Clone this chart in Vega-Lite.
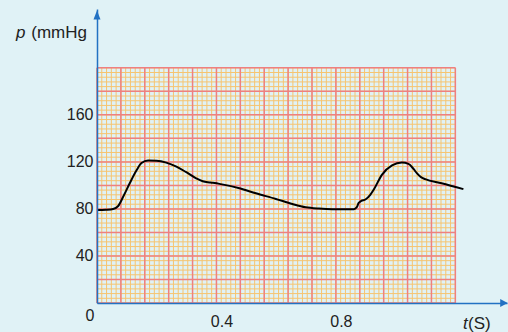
{
  "$schema": "https://vega.github.io/schema/vega-lite/v6.json",
  "width": 410,
  "height": 294,
  "autosize": "none",
  "padding": {"left": 97, "top": 9, "right": 1, "bottom": 29},
  "background": "#e0f2f6",
  "config": {"view": {"stroke": null}, "font": "Liberation Sans"},
  "datasets": {
    "vminor": [{"t":0},{"t":0.016},{"t":0.032},{"t":0.048},{"t":0.064},{"t":0.08},{"t":0.096},{"t":0.112},{"t":0.128},{"t":0.144},{"t":0.16},{"t":0.176},{"t":0.192},{"t":0.208},{"t":0.224},{"t":0.24},{"t":0.256},{"t":0.272},{"t":0.288},{"t":0.304},{"t":0.32},{"t":0.336},{"t":0.352},{"t":0.368},{"t":0.384},{"t":0.4},{"t":0.416},{"t":0.432},{"t":0.448},{"t":0.464},{"t":0.48},{"t":0.496},{"t":0.512},{"t":0.528},{"t":0.544},{"t":0.56},{"t":0.576},{"t":0.592},{"t":0.608},{"t":0.624},{"t":0.64},{"t":0.656},{"t":0.672},{"t":0.688},{"t":0.704},{"t":0.72},{"t":0.736},{"t":0.752},{"t":0.768},{"t":0.784},{"t":0.8},{"t":0.816},{"t":0.832},{"t":0.848},{"t":0.864},{"t":0.88},{"t":0.896},{"t":0.912},{"t":0.928},{"t":0.944},{"t":0.96},{"t":0.976},{"t":0.992},{"t":1.008},{"t":1.024},{"t":1.04},{"t":1.056},{"t":1.072},{"t":1.088},{"t":1.104},{"t":1.12},{"t":1.136},{"t":1.152},{"t":1.168},{"t":1.184},{"t":1.2}],
    "vmajor": [{"t":0},{"t":0.08},{"t":0.16},{"t":0.24},{"t":0.32},{"t":0.4},{"t":0.48},{"t":0.56},{"t":0.64},{"t":0.72},{"t":0.8},{"t":0.88},{"t":0.96},{"t":1.04},{"t":1.12},{"t":1.2}],
    "hminor": [{"p":0},{"p":4},{"p":8},{"p":12},{"p":16},{"p":20},{"p":24},{"p":28},{"p":32},{"p":36},{"p":40},{"p":44},{"p":48},{"p":52},{"p":56},{"p":60},{"p":64},{"p":68},{"p":72},{"p":76},{"p":80},{"p":84},{"p":88},{"p":92},{"p":96},{"p":100},{"p":104},{"p":108},{"p":112},{"p":116},{"p":120},{"p":124},{"p":128},{"p":132},{"p":136},{"p":140},{"p":144},{"p":148},{"p":152},{"p":156},{"p":160},{"p":164},{"p":168},{"p":172},{"p":176},{"p":180},{"p":184},{"p":188},{"p":192},{"p":196},{"p":200}],
    "hmajor": [{"p":0},{"p":20},{"p":40},{"p":60},{"p":80},{"p":100},{"p":120},{"p":140},{"p":160},{"p":180},{"p":200}],
    "curve": [
      {"t":0,"p":79},{"t":0.03,"p":79.3},{"t":0.054,"p":80},{"t":0.071,"p":82.5},{"t":0.088,"p":90.5},{"t":0.11,"p":102},{"t":0.132,"p":112.6},{"t":0.149,"p":119},{"t":0.171,"p":121.2},{"t":0.199,"p":121},{"t":0.232,"p":119.4},{"t":0.266,"p":116},{"t":0.299,"p":111.2},{"t":0.332,"p":106},{"t":0.354,"p":103.5},{"t":0.38,"p":102.5},{"t":0.41,"p":101.3},{"t":0.477,"p":97.6},{"t":0.532,"p":93.3},{"t":0.599,"p":88.5},{"t":0.654,"p":84.2},{"t":0.699,"p":81.4},{"t":0.743,"p":80.3},{"t":0.788,"p":79.8},{"t":0.86,"p":79.8},{"t":0.87,"p":81.5},{"t":0.876,"p":85},{"t":0.885,"p":86.8},{"t":0.899,"p":88},{"t":0.915,"p":92},{"t":0.927,"p":96.5},{"t":0.954,"p":109},{"t":0.988,"p":117},{"t":1.021,"p":119.4},{"t":1.043,"p":118.3},{"t":1.06,"p":114},{"t":1.071,"p":110.4},{"t":1.085,"p":107},{"t":1.099,"p":105.3},{"t":1.154,"p":101.9},{"t":1.227,"p":96.8}
    ]
  },
  "layer": [
    {
      "data": {"name": "vminor"},
      "mark": {"type": "rule", "color": "#f6c470", "strokeWidth": 1},
      "encoding": {
        "x": {"field": "t", "type": "quantitative", "scale": {"domain": [0, 1.373], "nice": false, "zero": false},
              "axis": {"values": [0.4, 0.8], "title": null, "ticks": false, "grid": false, "domainColor": "#2272c3", "domainWidth": 1.5, "labelFontSize": 16, "labelColor": "#222222", "labelPadding": 10, "labelOffset": 5, "labelFont": "Liberation Sans", "zindex": 1}},
        "y": {"datum": 0, "type": "quantitative", "scale": {"domain": [0, 250], "nice": false},
              "axis": {"values": [40, 80, 120, 160], "title": null, "ticks": false, "grid": false, "domainColor": "#2272c3", "domainWidth": 1.5, "labelFontSize": 16, "labelColor": "#222222", "labelPadding": 4, "labelFont": "Liberation Sans", "zindex": 1}},
        "y2": {"datum": 200}
      }
    },
    {
      "data": {"name": "hminor"},
      "mark": {"type": "rule", "color": "#f6c470", "strokeWidth": 1},
      "encoding": {
        "y": {"field": "p", "type": "quantitative"},
        "x": {"datum": 0, "type": "quantitative"},
        "x2": {"datum": 1.2}
      }
    },
    {
      "data": {"name": "vmajor"},
      "mark": {"type": "rule", "color": "#ee8080", "strokeWidth": 1.5},
      "encoding": {
        "x": {"field": "t", "type": "quantitative"},
        "y": {"datum": 0, "type": "quantitative"},
        "y2": {"datum": 200}
      }
    },
    {
      "data": {"name": "hmajor"},
      "mark": {"type": "rule", "color": "#ee8080", "strokeWidth": 1.5},
      "encoding": {
        "y": {"field": "p", "type": "quantitative"},
        "x": {"datum": 0, "type": "quantitative"},
        "x2": {"datum": 1.2}
      }
    },
    {
      "data": {"name": "curve"},
      "mark": {"type": "line", "color": "#000000", "strokeWidth": 2, "interpolate": "monotone"},
      "encoding": {
        "x": {"field": "t", "type": "quantitative"},
        "y": {"field": "p", "type": "quantitative"}
      }
    },
    {
      "data": {"values": [{"t": 0, "p": 245}]},
      "mark": {"type": "point", "shape": "M0,-1L0.78,1L-0.78,1Z", "size": 81, "filled": true, "color": "#2272c3", "opacity": 1},
      "encoding": {
        "x": {"field": "t", "type": "quantitative"},
        "y": {"field": "p", "type": "quantitative"}
      }
    },
    {
      "data": {"values": [{"t": 1.362, "p": 0}]},
      "mark": {"type": "point", "shape": "M1,0L-0.875,-1L-0.875,1Z", "size": 64, "filled": true, "color": "#2272c3", "opacity": 1},
      "encoding": {
        "x": {"field": "t", "type": "quantitative"},
        "y": {"field": "p", "type": "quantitative"}
      }
    },
    {
      "data": {"values": [{"t": 0, "p": 0, "txt": "0"}]},
      "mark": {"type": "text", "fontSize": 16, "color": "#222222", "dx": -7, "dy": 13, "align": "center", "baseline": "middle", "font": "Liberation Sans"},
      "encoding": {
        "x": {"field": "t", "type": "quantitative"},
        "y": {"field": "p", "type": "quantitative"},
        "text": {"field": "txt"}
      }
    },
    {
      "data": {"values": [{"t": -0.271, "p": 225, "txt": "p"}, {"t": 1.226, "p": -22.5, "txt": "t"}]},
      "mark": {"type": "text", "fontSize": 17, "fontStyle": "italic", "color": "#222222", "align": "left", "baseline": "alphabetic", "font": "Liberation Sans"},
      "encoding": {
        "x": {"field": "t", "type": "quantitative"},
        "y": {"field": "p", "type": "quantitative"},
        "text": {"field": "txt"}
      }
    },
    {
      "data": {"values": [{"t": -0.0335, "p": 225, "txt": "(mmHg"}]},
      "mark": {"type": "text", "fontSize": 17, "color": "#222222", "align": "right", "baseline": "alphabetic", "font": "Liberation Sans"},
      "encoding": {
        "x": {"field": "t", "type": "quantitative"},
        "y": {"field": "p", "type": "quantitative"},
        "text": {"field": "txt"}
      }
    },
    {
      "data": {"values": [{"t": 1.2425, "p": -22.5, "txt": "(S)"}]},
      "mark": {"type": "text", "fontSize": 17, "color": "#222222", "align": "left", "baseline": "alphabetic", "font": "Liberation Sans"},
      "encoding": {
        "x": {"field": "t", "type": "quantitative"},
        "y": {"field": "p", "type": "quantitative"},
        "text": {"field": "txt"}
      }
    }
  ]
}
